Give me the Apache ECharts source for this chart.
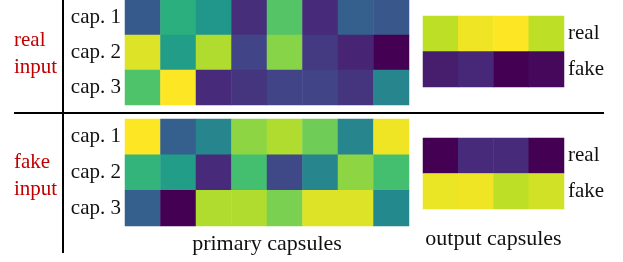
<!DOCTYPE html>
<html>
<head>
<meta charset="utf-8">
<script src="https://cdn.jsdelivr.net/npm/echarts@6/dist/echarts.min.js"></script>
<style>
html,body{margin:0;padding:0;background:#fff;}
#main{width:623px;height:262px;}
</style>
</head>
<body>
<div id="main"></div>
<script>
var primary_cols = ['1','2','3','4','5','6','7','8'];
var output_cols = ['1','2','3','4'];
var cap_rows = ['cap. 1','cap. 2','cap. 3'];
var out_rows = ['real','fake'];

// activations, 0..1 on the viridis scale
var real_primary = [
	[0.28,0.63,0.52,0.13,0.73,0.12,0.30,0.27],
	[0.95,0.55,0.88,0.20,0.82,0.17,0.10,0.00],
	[0.72,1.00,0.12,0.15,0.20,0.20,0.15,0.45]
];
var fake_primary = [
	[1.00,0.30,0.45,0.83,0.88,0.78,0.45,0.98],
	[0.65,0.55,0.12,0.70,0.22,0.45,0.83,0.70],
	[0.30,0.00,0.88,0.88,0.80,0.95,0.95,0.47]
];
var real_output = [
	[0.90,0.98,1.00,0.90],
	[0.08,0.11,0.00,0.02]
];
var fake_output = [
	[0.00,0.12,0.12,0.00],
	[0.97,0.98,0.90,0.93]
];

var viridis = ['#440154','#482475','#414487','#355f8d','#2a788e','#21918c','#22a884','#44bf70','#7ad151','#bddf26','#fde725'];
var serif = 'Liberation Serif';

function to_cells(rows){
	var out = [];
	for(var r = 0; r < rows.length; r++){
		for(var c = 0; c < rows[r].length; c++){
			out.push([c, r, rows[r][c]]);
		}
	}
	return out;
}

var grids = [
	{left:125, top:0,   width:284, height:105},
	{left:125, top:119, width:284, height:107},
	{left:423, top:16,  width:141, height:71},
	{left:423, top:138, width:141, height:71}
];

var xAxes = [], yAxes = [];
for(var i = 0; i < 4; i++){
	var is_primary = i < 2;
	var x = {
		type:'category', gridIndex:i,
		data: is_primary ? primary_cols : output_cols,
		axisLine:{show:false}, axisTick:{show:false}, axisLabel:{show:false}, splitLine:{show:false}
	};
	if(i == 1 || i == 3){
		x.name = is_primary ? 'primary capsules' : 'output capsules';
		x.nameLocation = 'middle';
		x.nameGap = is_primary ? 18 : 30;
		x.nameTextStyle = {fontFamily:serif, fontSize:22, color:'#111', verticalAlign:'middle'};
	}
	xAxes.push(x);
	yAxes.push({
		type:'category', gridIndex:i, inverse:true,
		position: is_primary ? 'left' : 'right',
		data: is_primary ? cap_rows : out_rows,
		axisLine:{show:false}, axisTick:{show:false}, splitLine:{show:false},
		axisLabel:{fontFamily:serif, fontSize:21, color:'#111', margin:4}
	});
}

var all_data = [real_primary, fake_primary, real_output, fake_output];
var series = [];
for(var i = 0; i < 4; i++){
	series.push({
		type:'heatmap', xAxisIndex:i, yAxisIndex:i,
		data: to_cells(all_data[i]),
		itemStyle:{borderWidth:0},
		emphasis:{disabled:true}
	});
}

var chart = echarts.init(document.getElementById('main'));
chart.setOption({
	backgroundColor:'#fff',
	animation:false,
	grid:grids,
	xAxis:xAxes,
	yAxis:yAxes,
	visualMap:{show:false, min:0, max:1, seriesIndex:[0,1,2,3], inRange:{color:viridis}},
	series:series,
	graphic:[
		{type:'line', shape:{x1:63, y1:0, x2:63, y2:253}, style:{stroke:'#000', lineWidth:2}},
		{type:'line', shape:{x1:14, y1:113, x2:604, y2:113}, style:{stroke:'#000', lineWidth:2}},
		{type:'text', left:14, top:27, style:{text:'real\ninput', fontFamily:serif, fontSize:21, lineHeight:27, fill:'#c00000'}},
		{type:'text', left:14, top:149, style:{text:'fake\ninput', fontFamily:serif, fontSize:21, lineHeight:27, fill:'#c00000'}}
	]
});
</script>
</body>
</html>
